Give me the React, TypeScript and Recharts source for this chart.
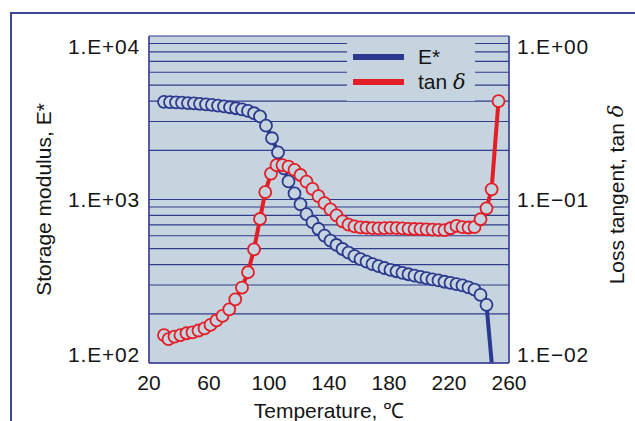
import React from 'react';
import {
  ComposedChart,
  Line,
  XAxis,
  YAxis,
  CartesianGrid,
  Legend,
  Label,
} from 'recharts';

// storage modulus E* (left, log axis)
const TEMP_E = [30, 34, 38, 42, 46, 50, 54, 58, 62, 66, 70, 74, 78, 82, 86, 90, 94, 98, 102, 106, 110, 113, 117, 121, 125, 129, 133, 137, 141, 145, 149, 153, 157, 161, 165, 169, 173, 177, 181, 185, 189, 193, 197, 201, 205, 209, 213, 217, 221, 225, 229, 233, 237, 241, 245, 250];
const E_STAR = [3960, 3945, 3930, 3910, 3890, 3870, 3845, 3820, 3790, 3755, 3715, 3665, 3615, 3560, 3480, 3370, 3220, 2830, 2370, 1940, 1550, 1290, 1090, 935, 815, 728, 660, 602, 560, 527, 498, 473, 451, 432, 417, 403, 391, 381, 371, 364, 356, 349, 342, 336, 330, 325, 320, 314, 309, 304, 298, 290, 281, 261, 227, 70];

// loss tangent tan δ (right, log axis)
const TEMP_TAN = [30, 33, 37, 41, 45, 49, 53, 57, 61, 65, 69, 73.5, 77.5, 82, 86, 90, 94, 97.5, 101.3, 105, 109, 113, 117, 121, 125, 129, 133, 137, 141, 145, 149, 153, 157, 161, 165, 169, 173, 177, 181, 185, 189, 193, 197, 201, 205, 209, 213, 217, 221, 225, 229, 233, 237, 241, 245, 248.4, 253];
const TAN_D = [0.0148, 0.014, 0.0145, 0.0148, 0.0152, 0.0154, 0.0158, 0.0163, 0.0171, 0.0182, 0.0194, 0.0213, 0.0245, 0.0289, 0.0359, 0.0496, 0.076, 0.111, 0.144, 0.1625, 0.1625, 0.1588, 0.1516, 0.1412, 0.1285, 0.116, 0.105, 0.095, 0.087, 0.08, 0.0735, 0.0702, 0.0685, 0.0676, 0.0672, 0.0668, 0.0666, 0.0668, 0.067, 0.0668, 0.0665, 0.0662, 0.066, 0.0658, 0.0656, 0.0654, 0.0652, 0.065, 0.0667, 0.0689, 0.0678, 0.0674, 0.0678, 0.0757, 0.0883, 0.1154, 0.4];

const X_TICKS = [20, 60, 100, 140, 180, 220, 260];
const E_TICKS = [100, 200, 300, 400, 500, 600, 700, 800, 900, 1000, 2000, 3000, 4000, 5000, 6000, 7000, 8000, 9000, 10000];
const TAN_TICKS = [0.01, 0.02, 0.03, 0.04, 0.05, 0.06, 0.07, 0.08, 0.09, 0.1, 0.2, 0.3, 0.4, 0.5, 0.6, 0.7, 0.8, 0.9, 1];
const E_LABELS: Record<number, string> = { 100: '1.E+02', 1000: '1.E+03', 10000: '1.E+04' };
const TAN_LABELS: Record<number, string> = { 0.01: '1.E\u221202', 0.1: '1.E\u221201', 1: '1.E+00' };

const BLUE = '#2b3a8e';
const RED = '#e31e26';
const BG = '#c6d4e0';
const INK = '#151515';
const FONT = '"Liberation Sans", Arial, Helvetica, sans-serif';
const FS = 21;

const eData = TEMP_E.map((t, i) => ({ t, e: E_STAR[i] }));
const tanData = TEMP_TAN.map((t, i) => ({ t, tan: TAN_D[i] }));

const makeDot = (color: string, key: string, min: number) => (props: any) => {
  const { cx, cy, index, payload } = props;
  if (cx == null || cy == null || payload[key] < min) return <g key={`${key}-${index}`} />;
  return <circle key={`${key}-${index}`} cx={cx} cy={cy} r={6} fill={BG} stroke={color} strokeWidth={1.8} />;
};

// end labels sit a little inside the plot, like the original
const LeftTick = (props: any) => {
  const { x, y, payload } = props;
  const txt = E_LABELS[payload.value];
  if (!txt) return null;
  const dy = payload.value === 100 ? -9 : payload.value === 10000 ? 10 : 0;
  return (
    <text x={x} y={y + dy} textAnchor="end" dominantBaseline="central" fontSize={FS} fill={INK} fontFamily={FONT} letterSpacing={0.8}>
      {txt}
    </text>
  );
};

const RightTick = (props: any) => {
  const { x, y, payload } = props;
  const txt = TAN_LABELS[payload.value];
  if (!txt) return null;
  const dy = payload.value === 0.01 ? -9 : payload.value === 1 ? 10 : 0;
  return (
    <text x={x} y={y + dy} textAnchor="start" dominantBaseline="central" fontSize={FS} fill={INK} fontFamily={FONT} letterSpacing={0.8}>
      {txt}
    </text>
  );
};

const renderLegend = () => (
  <div style={{ position: 'relative', width: 128, height: 58, background: BG, fontFamily: FONT, fontSize: FS, color: INK }}>
    <div style={{ position: 'absolute', left: 6, top: 11, width: 51, height: 6, background: BLUE }} />
    <div style={{ position: 'absolute', left: 71, top: 1, lineHeight: '26px' }}>E*</div>
    <div style={{ position: 'absolute', left: 6, top: 36, width: 51, height: 6, background: RED }} />
    <div style={{ position: 'absolute', left: 71, top: 26, lineHeight: '26px' }}>
      tan <i style={{ fontFamily: '"DejaVu Serif", serif' }}>δ</i>
    </div>
  </div>
);

export default function App() {
  return (
    <div style={{ position: 'absolute', left: 0, top: 0, width: 635, height: 421, background: '#fff', overflow: 'hidden' }}>
      <div
        style={{
          position: 'absolute',
          left: 10,
          top: 12,
          width: 625,
          height: 409,
          borderTop: '2px solid #3e4496',
          borderLeft: '2px solid #3e4496',
          boxSizing: 'border-box',
        }}
      />
      <div style={{ position: 'absolute', left: 0, top: 0 }}>
        <ComposedChart width={635} height={421} margin={{ top: 36, right: 26, bottom: 0, left: 9 }}>
          <CartesianGrid yAxisId="left" vertical horizontal={false} fill={BG} stroke="#6a76aa" strokeWidth={1.3} strokeOpacity={1} />
          <CartesianGrid yAxisId="left" vertical={false} horizontal stroke="#303c8c" strokeWidth={1.2} strokeOpacity={1} />
          <XAxis
            xAxisId="bottom"
            dataKey="t"
            type="number"
            domain={[20, 260]}
            ticks={X_TICKS}
            height={58}
            tickSize={0}
            tickMargin={12}
            axisLine={{ stroke: '#3e4496', strokeWidth: 1.5 }}
            tick={{ fontSize: FS, fill: INK, fontFamily: FONT }}
            allowDataOverflow
          >
            <Label
              content={({ viewBox }: any) => (
                <text
                  x={viewBox.x + viewBox.width / 2}
                  y={410}
                  textAnchor="middle"
                  dominantBaseline="central"
                  fontSize={FS}
                  fill={INK}
                  fontFamily={FONT}
                >
                  Temperature, ℃
                </text>
              )}
            />
          </XAxis>
          <XAxis xAxisId="top" orientation="top" type="number" domain={[20, 260]} height={0} tick={false} tickLine={false} axisLine={{ stroke: '#3e4496', strokeWidth: 1.5 }} />
          <YAxis
            yAxisId="left"
            scale="log"
            domain={[100, 10000]}
            ticks={E_TICKS}
            width={140}
            tickSize={0}
            tickMargin={9}
            interval={0}
            allowDataOverflow
            axisLine={{ stroke: '#3e4496', strokeWidth: 1.5 }}
            tick={<LeftTick />}
          >
            <Label
              content={({ viewBox }: any) => (
                <text
                  x={43}
                  y={viewBox.y + viewBox.height / 2}
                  transform={`rotate(-90 43 ${viewBox.y + viewBox.height / 2})`}
                  textAnchor="middle"
                  dominantBaseline="central"
                  fontSize={FS}
                  fill={INK}
                  fontFamily={FONT}
                >
                  Storage modulus, E*
                </text>
              )}
            />
          </YAxis>
          <YAxis
            yAxisId="right"
            orientation="right"
            scale="log"
            domain={[0.01, 1]}
            ticks={TAN_TICKS}
            width={100}
            tickSize={0}
            tickMargin={8}
            interval={0}
            allowDataOverflow
            axisLine={{ stroke: '#3e4496', strokeWidth: 1.5 }}
            tick={<RightTick />}
          >
            <Label
              content={({ viewBox }: any) => (
                <text
                  x={616}
                  y={viewBox.y + viewBox.height / 2 - 5}
                  transform={`rotate(-90 616 ${viewBox.y + viewBox.height / 2 - 5})`}
                  textAnchor="middle"
                  dominantBaseline="central"
                  fontSize={FS}
                  fill={INK}
                  fontFamily={FONT}
                >
                  Loss tangent, tan <tspan fontStyle="italic" fontFamily='"DejaVu Serif", serif'>δ</tspan>
                </text>
              )}
            />
          </YAxis>
          <Legend
            layout="horizontal"
            verticalAlign="middle"
            align="center"
            content={renderLegend}
            wrapperStyle={{ position: 'absolute', left: 347, top: 43, width: 128, height: 58 }}
          />
          <Line
            name="E*"
            data={eData}
            xAxisId="bottom"
            yAxisId="left"
            dataKey="e"
            type="linear"
            stroke={BLUE}
            strokeWidth={4}
            dot={makeDot(BLUE, 'e', 100)}
            activeDot={false}
            isAnimationActive={false}
          />
          <Line
            name="tan δ"
            data={tanData}
            xAxisId="bottom"
            yAxisId="right"
            dataKey="tan"
            type="linear"
            stroke={RED}
            strokeWidth={4}
            dot={makeDot(RED, 'tan', 0)}
            activeDot={false}
            isAnimationActive={false}
          />
        </ComposedChart>
      </div>
    </div>
  );
}
